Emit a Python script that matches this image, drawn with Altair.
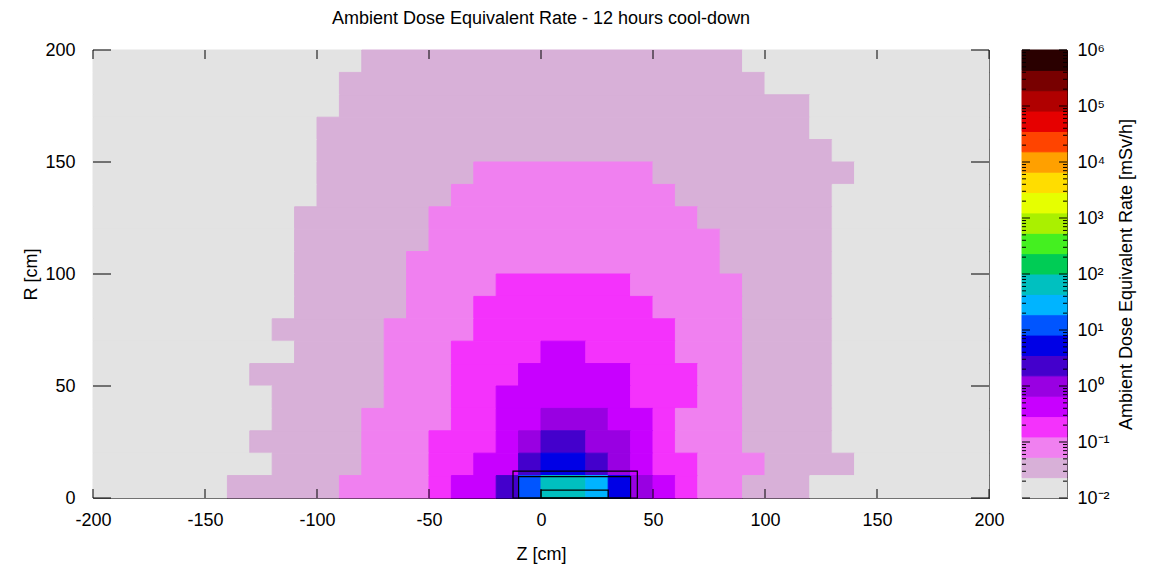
import altair as alt
import pandas as pd

FONT = "Liberation Sans"
TITLE = "Ambient Dose Equivalent Rate - 12 hours cool-down"

# ---- grid definition (10 cm bins) ----
Z_START = -200
BIN = 10
N_COLS = 40

# lower edge of each R row, from top (190-200) to bottom (0-10)
row_r0 = [190, 180, 170, 160, 150, 140, 130, 120, 110, 100,
          90, 80, 70, 60, 50, 40, 30, 20, 10, 0]

# colour band index of each cell in a row, run-length coded as (band, number of 10 cm cells)
row_runs = [
    [(0, 12), (1, 17), (0, 11)],
    [(0, 11), (1, 19), (0, 10)],
    [(0, 11), (1, 21), (0, 8)],
    [(0, 10), (1, 22), (0, 8)],
    [(0, 10), (1, 23), (0, 7)],
    [(0, 10), (1, 7), (2, 8), (1, 9), (0, 6)],
    [(0, 10), (1, 6), (2, 10), (1, 7), (0, 7)],
    [(0, 9), (1, 6), (2, 12), (1, 6), (0, 7)],
    [(0, 9), (1, 6), (2, 13), (1, 5), (0, 7)],
    [(0, 9), (1, 5), (2, 14), (1, 5), (0, 7)],
    [(0, 9), (1, 5), (2, 4), (3, 6), (2, 5), (1, 4), (0, 7)],
    [(0, 9), (1, 5), (2, 3), (3, 8), (2, 4), (1, 4), (0, 7)],
    [(0, 8), (1, 5), (2, 4), (3, 9), (2, 3), (1, 4), (0, 7)],
    [(0, 9), (1, 4), (2, 3), (3, 4), (4, 2), (3, 4), (2, 3), (1, 4), (0, 7)],
    [(0, 7), (1, 6), (2, 3), (3, 3), (4, 5), (3, 3), (2, 2), (1, 4), (0, 7)],
    [(0, 8), (1, 5), (2, 3), (3, 2), (4, 6), (3, 3), (2, 2), (1, 4), (0, 7)],
    [(0, 8), (1, 4), (2, 4), (3, 2), (4, 2), (5, 3), (4, 2), (3, 1), (2, 3), (1, 4), (0, 7)],
    [(0, 7), (1, 5), (2, 3), (3, 3), (4, 1), (5, 1), (6, 2), (5, 2), (4, 1), (3, 1), (2, 3), (1, 4), (0, 7)],
    [(0, 8), (1, 4), (2, 3), (3, 2), (4, 2), (6, 1), (7, 2), (6, 1), (5, 1), (4, 1), (3, 2), (2, 3), (1, 4), (0, 6)],
    [(0, 6), (1, 5), (2, 4), (3, 1), (4, 2), (6, 1), (8, 1), (10, 2), (9, 1), (7, 1), (5, 1), (4, 1), (3, 1), (2, 2), (1, 3), (0, 8)],
]

# colour palette of the 22 bands (1e-2 ... 1e6, bottom to top)
band_colors = [
    "#e3e3e3", "#d8b0d8", "#f080f0", "#f432fc", "#c800ff", "#9900e2",
    "#4400cc", "#0000e6", "#0055ff", "#00b4ff", "#00c0c0", "#00cc55",
    "#44f020", "#aaf000", "#e6ff00", "#ffdd00", "#ffa000", "#ff4400",
    "#e60000", "#b00000", "#780000", "#2a0000",
]
LOG_MIN, LOG_MAX = -2, 6
N_BANDS = len(band_colors)
band_edges = [10 ** (LOG_MIN + (LOG_MAX - LOG_MIN) * k / N_BANDS) for k in range(N_BANDS + 1)]
band_mid = [10 ** (LOG_MIN + (LOG_MAX - LOG_MIN) * (k + 0.5) / N_BANDS) for k in range(N_BANDS)]

decade_values = [10.0 ** e for e in range(LOG_MIN, LOG_MAX + 1)]
minor_values = [k * 10.0 ** e for e in range(LOG_MIN, LOG_MAX) for k in range(2, 10)]

x_ticks = [-200, -150, -100, -50, 0, 50, 100, 150, 200]
y_ticks = [0, 50, 100, 150, 200]

# geometry outlines
box_z0 = [-12.5, -10, 0]
box_z1 = [43, 40, 30]
box_r0 = [0, 0, 0]
box_r1 = [12, 9.5, 3.5]

# ---- build tables (one rect per run of equal cells) ----
cells = []
for r0, runs in zip(row_r0, row_runs):
    assert sum(n for _, n in runs) == N_COLS
    i = 0
    for band, n in runs:
        z0 = Z_START + BIN * i
        cells.append({"z0": z0, "z1": z0 + BIN * n, "r0": r0, "r1": r0 + BIN,
                      "dose": band_mid[band]})
        i += n
cells_df = pd.DataFrame(cells)
bands_df = pd.DataFrame({"lo": band_edges[:-1], "hi": band_edges[1:], "dose": band_mid})
boxes_df = pd.DataFrame({"z0": box_z0, "z1": box_z1, "r0": box_r0, "r1": box_r1})
xt_df = pd.DataFrame({"z0": x_ticks})
yt_df = pd.DataFrame({"r0": y_ticks})
dec_df = pd.DataFrame({"lo": decade_values})
min_df = pd.DataFrame({"lo": minor_values})

W, H = 896, 448
CBW = 45
XT, YT = 9, 18

color_scale = alt.Scale(type="threshold", domain=band_edges[1:-1], range=band_colors)
xs = alt.Scale(domain=[-200, 200], nice=False, zero=False)
ys = alt.Scale(domain=[0, 200], nice=False, zero=False)

common_axis = dict(ticks=False, domain=False, grid=False, labelFont=FONT, labelFontSize=18,
                   labelColor="black", labelFlush=False, labelOverlap=False,
                   titleFont=FONT, titleFontSize=18, titleFontWeight="normal",
                   titleColor="black")
x_axis = alt.Axis(values=x_ticks, title="Z [cm]", labelPadding=13.5, titlePadding=16,
                  labelExpr="'' + datum.value", **common_axis)
y_axis = alt.Axis(values=y_ticks, title="R [cm]", labelPadding=18, titlePadding=4,
                  **common_axis)

heat = alt.Chart(cells_df).mark_rect(strokeWidth=1).encode(
    x=alt.X("z0:Q", scale=xs, axis=x_axis),
    x2="z1:Q",
    y=alt.Y("r0:Q", scale=ys, axis=y_axis),
    y2="r1:Q",
    color=alt.Color("dose:Q", scale=color_scale, legend=None),
    stroke=alt.Stroke("dose:Q", scale=color_scale, legend=None),
)

boxes = alt.Chart(boxes_df).mark_rect(fillOpacity=0, stroke="black", strokeWidth=1.2).encode(
    x=alt.X("z0:Q", scale=xs, axis=x_axis), x2="z1:Q",
    y=alt.Y("r0:Q", scale=ys, axis=y_axis), y2="r1:Q",
)

tick_b = alt.Chart(xt_df).mark_rule(color="black").encode(
    x=alt.X("z0:Q", scale=xs, axis=x_axis), y=alt.value(H), y2=alt.value(H - XT))
tick_t = alt.Chart(xt_df).mark_rule(color="black").encode(
    x=alt.X("z0:Q", scale=xs, axis=x_axis), y=alt.value(0), y2=alt.value(XT))
tick_l = alt.Chart(yt_df).mark_rule(color="black").encode(
    y=alt.Y("r0:Q", scale=ys, axis=y_axis), x=alt.value(0), x2=alt.value(YT))
tick_r = alt.Chart(yt_df).mark_rule(color="black").encode(
    y=alt.Y("r0:Q", scale=ys, axis=y_axis), x=alt.value(W), x2=alt.value(W - YT))

main = alt.layer(heat, boxes, tick_b, tick_t, tick_l, tick_r).properties(
    width=W, height=H,
    title=alt.Title(TITLE, font=FONT, fontSize=18, fontWeight="normal", color="black",
                    offset=13.5, anchor="middle"),
)

cys = alt.Scale(type="log", domain=[band_edges[0], band_edges[-1]], nice=False)
sup_expr = ("'10' + (round(log(datum.value)/LN10) < 0 ? '\u207b' : '') + "
            "substring('\u2070\u00b9\u00b2\u00b3\u2074\u2075\u2076\u2077\u2078\u2079', "
            "abs(round(log(datum.value)/LN10)), abs(round(log(datum.value)/LN10)) + 1)")
cb_axis = alt.Axis(orient="right", values=decade_values, labelExpr=sup_expr, labelPadding=10,
                   title="Ambient Dose Equivalent Rate [mSv/h]", titleAngle=270,
                   titleBaseline="top", titlePadding=8, **common_axis)

cb_bands = alt.Chart(bands_df).mark_rect(strokeWidth=1).encode(
    x=alt.value(0), x2=alt.value(CBW),
    y=alt.Y("lo:Q", scale=cys, axis=cb_axis),
    y2="hi:Q",
    color=alt.Color("dose:Q", scale=color_scale, legend=None),
    stroke=alt.Stroke("dose:Q", scale=color_scale, legend=None),
)
cb_maj_l = alt.Chart(dec_df).mark_rule(color="black").encode(
    y=alt.Y("lo:Q", scale=cys, axis=cb_axis), x=alt.value(0), x2=alt.value(8))
cb_maj_r = alt.Chart(dec_df).mark_rule(color="black").encode(
    y=alt.Y("lo:Q", scale=cys, axis=cb_axis), x=alt.value(CBW), x2=alt.value(CBW - 8))
cb_min_l = alt.Chart(min_df).mark_rule(color="black").encode(
    y=alt.Y("lo:Q", scale=cys, axis=cb_axis), x=alt.value(0), x2=alt.value(4))
cb_min_r = alt.Chart(min_df).mark_rule(color="black").encode(
    y=alt.Y("lo:Q", scale=cys, axis=cb_axis), x=alt.value(CBW), x2=alt.value(CBW - 4))

colorbar = alt.layer(cb_bands, cb_maj_l, cb_maj_r, cb_min_l, cb_min_r).properties(
    width=CBW, height=H)

chart = alt.hconcat(main, colorbar, spacing=16).properties(
    padding={"left": 14, "top": 1, "right": 5, "bottom": 0},
    background="white",
).configure_view(stroke="black", strokeWidth=1)

chart.save("out.html", embed_options={"renderer": "svg", "actions": False})
